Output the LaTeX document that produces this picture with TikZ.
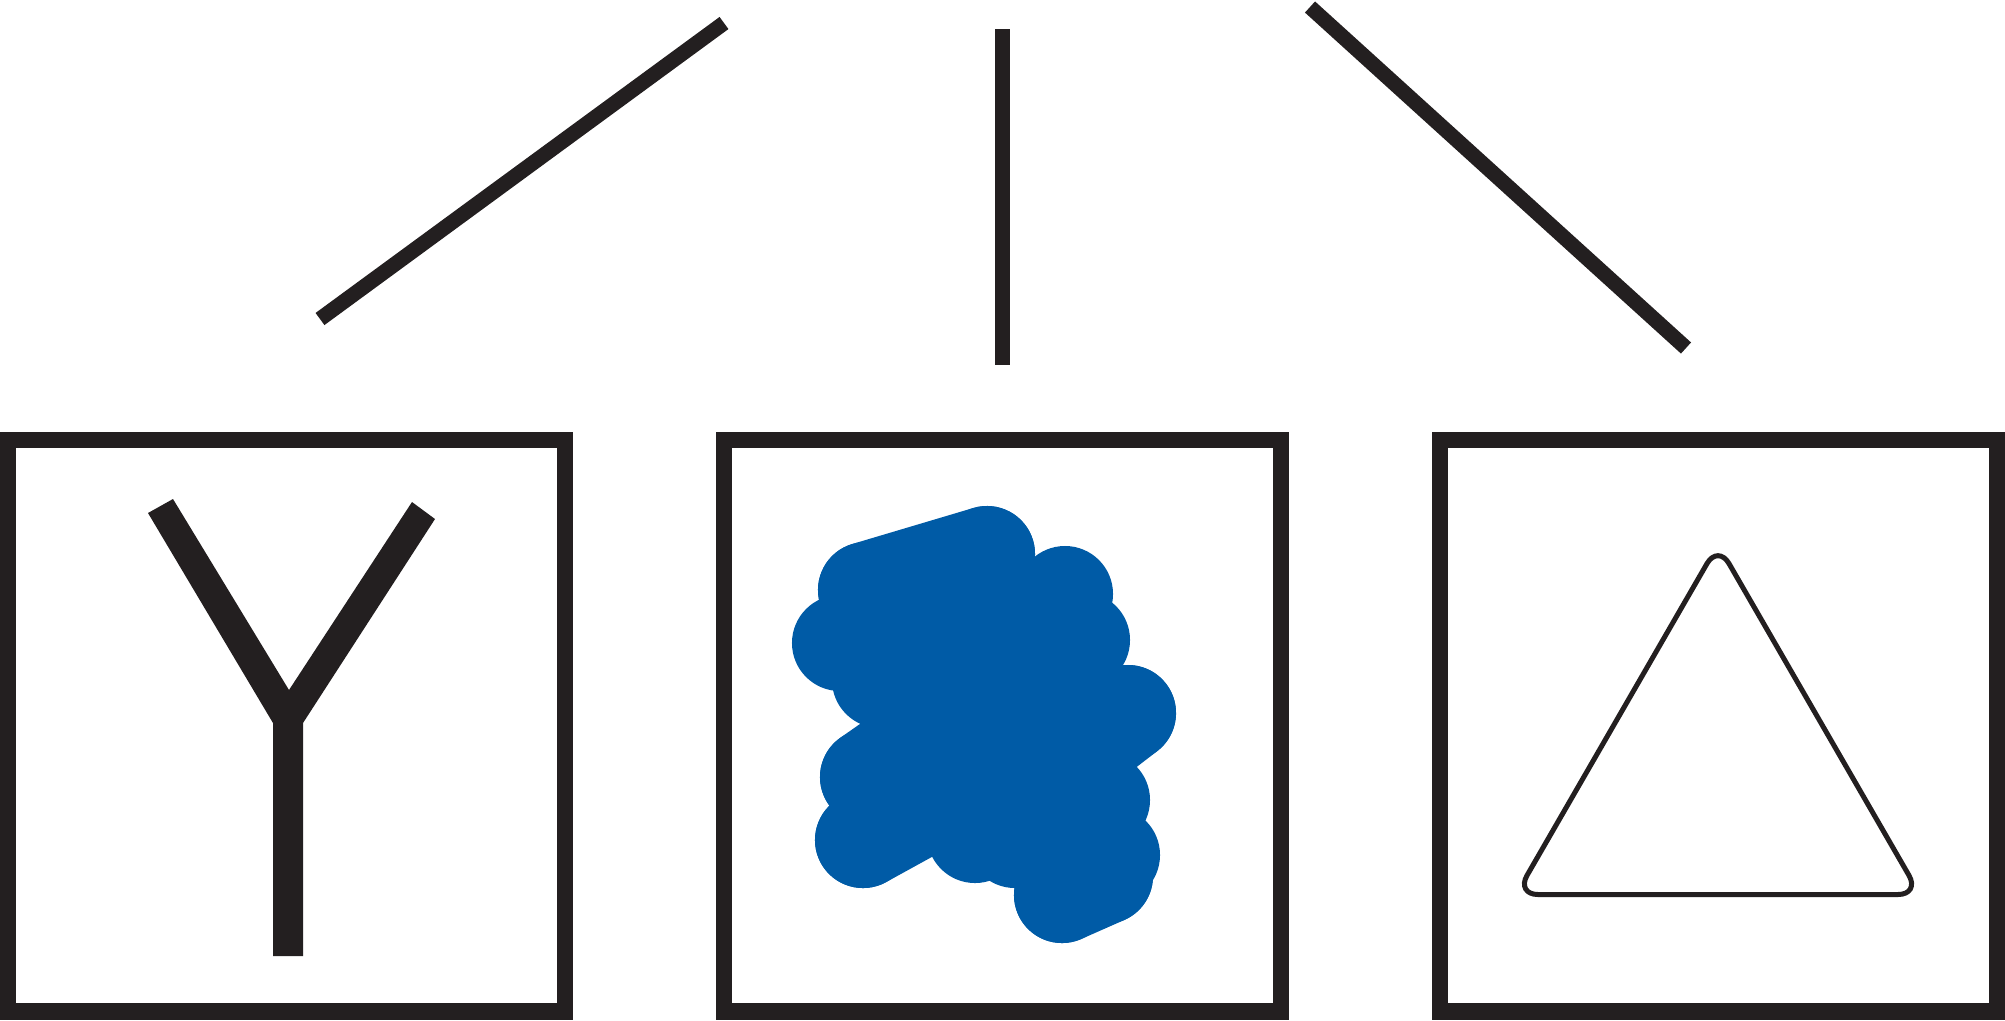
\documentclass[tikz,border=0pt]{standalone}
\usepackage{xcolor}
\usepackage{tikz}
\definecolor{SketchInk}{RGB}{35, 31, 32}
\definecolor{SketchBlue}{RGB}{0, 91, 166}

\begin{document}
\begin{tikzpicture}[x=0.01cm, y=-0.01cm,
    frame/.style={draw=SketchInk, line width=0.165cm},
    stick/.style={draw=SketchInk, line width=0.15cm},
    blob/.style={fill=SketchBlue},
    pen/.style={draw=SketchBlue, line width=0.96cm, line cap=round}]
    \useasboundingbox (0,0) rectangle (2005,1020);

    % Sticks on top
    \draw[stick] (320,319) -- (724,23);
    \draw[stick] (1002.5,29) -- (1002.5,365);
    \draw[stick] (1310,7) -- (1686,348);

    % Frames
    \draw[frame] (8,440) rectangle (565,1011.5);
    \draw[frame] (724,440) rectangle (1281,1011.5);
    \draw[frame] (1440,440) rectangle (1997,1011.5);

    % Y shape
    \fill[SketchInk] (148,513) -- (173,499) -- (289,690) -- (412,502) -- (435,519)
        -- (303,723) -- (303,956) -- (273,956) -- (273,723) -- cycle;

    % Blue blob
    \fill[blob] (866,590) -- (987,554) -- (1065,594) -- (1082,640) -- (1128,713)
        -- (1102,800) -- (1112,855) -- (1105,876) -- (1062,895) -- (1015,840)
        -- (975,835) -- (863,840) -- (868,777) -- (880,680) -- (840,643) -- cycle;
    \foreach \bx/\by in {866/590, 987/554, 1065/594, 1082/640, 1128/713,
        1102/800, 1112/855, 1105/876, 1062/895, 1015/840, 975/835, 863/840,
        868/777, 880/680, 840/643}
        \fill[blob] (\bx,\by) circle[radius=0.48cm];
    \draw[pen] (866,590) -- (987,554);
    \draw[pen] (1128,713) -- (1050,773);
    \draw[pen] (1062,895) -- (1105,876);
    \draw[pen] (863,840) -- (923,807);
    \draw[pen] (868,777) -- (928,735);

    % Triangle
    \draw[SketchInk, line width=0.05cm, rounded corners=0.22cm]
        (1718,544.5) -- (1920,894.5) -- (1516,894.5) -- cycle;
\end{tikzpicture}
\end{document}
